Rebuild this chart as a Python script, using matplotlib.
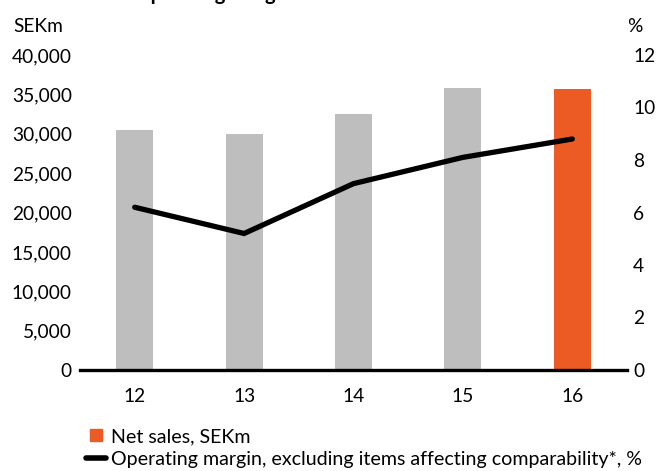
import matplotlib
matplotlib.use("Agg")
import matplotlib.pyplot as plt
from matplotlib.lines import Line2D
from matplotlib.ticker import FuncFormatter

plt.rcParams['font.family'] = ['Lato', 'DejaVu Sans']

# Data
years = ["12", "13", "14", "15", "16"]
net_sales = [30500, 30000, 32500, 35800, 35700]          # SEKm
operating_margin = [6.2, 5.2, 7.1, 8.1, 8.8]             # %
left_ticks = [0, 5000, 10000, 15000, 20000, 25000, 30000, 35000, 40000]
right_ticks = [0, 2, 4, 6, 8, 10, 12]

GREY = "#BEBEBE"
ORANGE = "#ED5B25"
FS = 13.8
LEGEND_FS = 14.1

W, H = 656, 471
fig = plt.figure(figsize=(W / 100, H / 100), dpi=100)
ax = fig.add_axes([80 / W, (H - 370) / H, (627 - 80) / W, (370 - 55) / H])

x = list(range(len(years)))
bar_colors = [GREY] * (len(years) - 1) + [ORANGE]
ax.bar(x, net_sales, width=0.34, color=bar_colors, zorder=2)

ax.set_xlim(-0.5, 4.5)
ax.set_ylim(0, 40000)
ax.set_yticks(left_ticks)
ax.yaxis.set_major_formatter(FuncFormatter(lambda v, p: f"{int(v):,}"))
ax.set_xticks(x)
ax.set_xticklabels(years)
ax.tick_params(axis='y', length=0, pad=5.8, labelsize=FS)
ax.tick_params(axis='x', length=0, pad=13, labelsize=FS)
for s in ("top", "left", "right"):
    ax.spines[s].set_visible(False)
ax.spines["bottom"].set_linewidth(2.4)
ax.spines["bottom"].set_zorder(5)

ax2 = ax.twinx()
ax2.plot(x, operating_margin, color="black", linewidth=3.8,
         solid_capstyle="round", solid_joinstyle="miter", zorder=4)
ax2.set_ylim(0, 12)
ax2.set_yticks(right_ticks)
ax2.tick_params(axis='y', length=0, pad=4.5, labelsize=FS)
for s in ("top", "left", "right", "bottom"):
    ax2.spines[s].set_visible(False)

# Axis unit labels
fig.text(13 / W, (H - 27) / H, "SEKm", fontsize=FS, ha="left", va="center")
fig.text(627 / W, (H - 27) / H, "%", fontsize=FS, ha="left", va="center")

# Title (sits at the very top edge)
fig.text(14 / W, (H - 0) / H, "Net sales and operating margin", fontsize=14.5,
         fontweight="bold", ha="left", va="baseline")

# Legend
handles = [
    Line2D([], [], marker="s", linestyle="none", markersize=9,
           markerfacecolor=ORANGE, markeredgecolor=ORANGE),
    Line2D([], [], color="black", linewidth=4, solid_capstyle="round"),
]
labels = ["Net sales, SEKm",
          "Operating margin, excluding items affecting comparability*, %"]
fig.legend(handles, labels, loc="upper left",
           bbox_to_anchor=(86 / W, (H - 428) / H), frameon=False,
           fontsize=LEGEND_FS, handlelength=1.0, handletextpad=0.3,
           labelspacing=0.3, borderpad=0, borderaxespad=0)

fig.savefig("out.png", dpi=100)
